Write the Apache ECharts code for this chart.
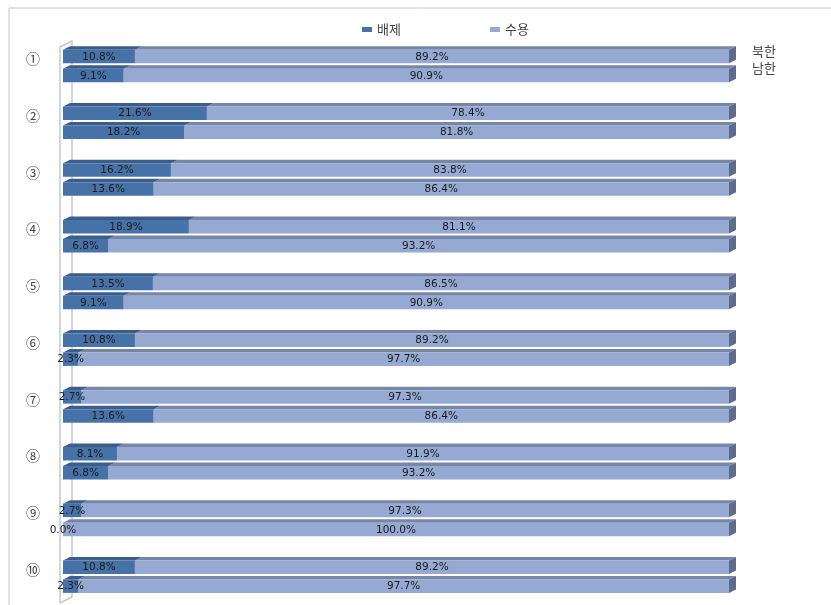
<!DOCTYPE html>
<html>
<head>
<meta charset="utf-8">
<script src="https://cdn.jsdelivr.net/npm/echarts@6/dist/echarts.min.js"></script>
<style>html,body{margin:0;padding:0;background:#fff;}#c{width:831px;height:605px;}</style>
</head>
<body>
<div id="c"></div>
<script>
var categories = ['①','②','③','④','⑤','⑥','⑦','⑧','⑨','⑩'];
var groupNames = ['북한','남한'];
var seriesNames = ['배제','수용'];
var northExclude = [10.8,21.6,16.2,18.9,13.5,10.8,2.7,8.1,2.7,10.8];
var northAccept  = [89.2,78.4,83.8,81.1,86.5,89.2,97.3,91.9,97.3,89.2];
var southExclude = [9.1,18.2,13.6,6.8,9.1,2.3,13.6,6.8,0.0,2.3];
var southAccept  = [90.9,81.8,86.4,93.2,90.9,97.7,86.4,93.2,100.0,97.7];

var excludeData = [], acceptData = [];
for (var i = 0; i < categories.length; i++) {
  excludeData.push([i, 0, 0, northExclude[i], northExclude[i]]);
  excludeData.push([i, 1, 0, southExclude[i], southExclude[i]]);
  acceptData.push([i, 0, northExclude[i], northExclude[i] + northAccept[i], northAccept[i]]);
  acceptData.push([i, 1, southExclude[i], southExclude[i] + southAccept[i], southAccept[i]]);
}

var DX = 7, DY = 3.5, FH = 13.5, OFF = 9.5;
function makeRender(front, top, side, withSide) {
  return function (params, api) {
    var cat = api.value(0), sub = api.value(1);
    var p0 = api.coord([api.value(2), cat]);
    var p1 = api.coord([api.value(3), cat]);
    var yc = p0[1] + (sub === 0 ? -OFF : OFF);
    var x0 = p0[0], x1 = p1[0];
    var y0 = yc - FH / 2, y1 = yc + FH / 2;
    var children = [];
    children.push({type: 'polygon', shape: {points: [[x0, y0], [x0 + DX, y0 - DY], [x1 + DX, y0 - DY], [x1, y0]]}, style: {fill: top}, z2: 1});
    children.push({type: 'rect', shape: {x: x0, y: y0, width: Math.max(x1 - x0, 0), height: FH}, style: {fill: front}, z2: 2});
    if (withSide) {
      children.push({type: 'polygon', shape: {points: [[x1, y0], [x1 + DX, y0 - DY], [x1 + DX, y1 - DY], [x1, y1]]}, style: {fill: side}, z2: 2});
    }
    children.push({type: 'text', style: {text: api.value(4).toFixed(1) + '%', x: (x0 + x1) / 2, y: yc + 0.5, align: 'center', verticalAlign: 'middle', fill: '#1a1a1a', font: '10.5px "DejaVu Sans", sans-serif'}, z2: 10});
    return {type: 'group', children: children};
  };
}

var chart = echarts.init(document.getElementById('c'));
chart.setOption({
  animation: false,
  backgroundColor: '#fff',
  legend: {
    data: seriesNames,
    left: 357, top: 18, itemGap: 89, itemWidth: 10, itemHeight: 5, icon: 'rect',
    textStyle: {fontSize: 13, color: '#444', fontFamily: '"Noto Sans CJK KR", sans-serif'}
  },
  grid: {left: 63, right: 102, top: 37.5, height: 570},
  xAxis: {type: 'value', min: 0, max: 100, show: false},
  yAxis: {
    type: 'category', data: categories, inverse: true,
    axisLine: {show: false}, axisTick: {show: false}, splitLine: {show: false},
    axisLabel: {margin: 23, fontSize: 14, color: '#444', verticalAlign: 'bottom', lineHeight: 14, fontFamily: '"Noto Sans CJK KR", sans-serif'}
  },
  graphic: [
    {type: 'rect', shape: {x: 9, y: 8, width: 900, height: 700}, style: {fill: 'none', stroke: '#c4c4c4', lineWidth: 1}, silent: true},
    {type: 'polyline', shape: {points: [[72, 597], [72, 41], [60, 47], [60, 603]]}, style: {fill: 'none', stroke: '#c8c8c8', lineWidth: 1.5}, z: -1, silent: true},
    {type: 'line', shape: {x1: 60, y1: 603, x2: 72, y2: 597}, style: {stroke: '#c8c8c8', lineWidth: 1.5}, z: -1, silent: true},
    {type: 'text', left: 752, top: 45, style: {text: groupNames[0], fill: '#444', font: '13px "Noto Sans CJK KR", sans-serif'}},
    {type: 'text', left: 752, top: 62, style: {text: groupNames[1], fill: '#444', font: '13px "Noto Sans CJK KR", sans-serif'}}
  ],
  series: [
    {name: seriesNames[1], type: 'custom', coordinateSystem: 'cartesian2d', itemStyle: {color: '#95a9d2'},
      encode: {x: [2, 3], y: 0}, data: acceptData, renderItem: makeRender('#95a9d2', '#7686a8', '#5d6c8c', true)},
    {name: seriesNames[0], type: 'custom', coordinateSystem: 'cartesian2d', itemStyle: {color: '#4772a8'},
      encode: {x: [2, 3], y: 0}, data: excludeData, renderItem: makeRender('#4772a8', '#3a5d8c', '#2f4d78', false)}
  ]
});
</script>
</body>
</html>
